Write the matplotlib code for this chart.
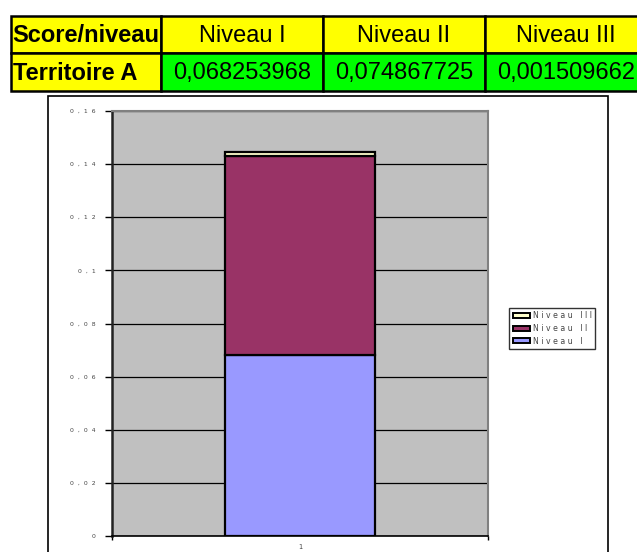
import matplotlib
matplotlib.use("Agg")
import matplotlib.pyplot as plt
from matplotlib.patches import Rectangle, Patch
from matplotlib.ticker import FuncFormatter, FixedLocator

row_header = "Score/niveau"
row_label = "Territoire A"
levels = ["Niveau I", "Niveau II", "Niveau III"]
values = [0.068253968, 0.074867725, 0.001509662]
value_texts = ["0,068253968", "0,074867725", "0,001509662"]
categories = [1]
colors = ["#9999FF", "#993366", "#FFFFCC"]

W, H = 637, 552
fig = plt.figure(figsize=(W / 100, H / 100), dpi=100)

# ---- background layer in pixel coordinates (table + chart frame) ----
bg = fig.add_axes([0, 0, 1, 1])
bg.set_xlim(0, W)
bg.set_ylim(H, 0)
bg.axis("off")

col_x = [11, 161, 323, 485, 647]
row_y = [16, 53, 91]
for i in range(4):
    x0, x1 = col_x[i], col_x[i + 1]
    bg.add_patch(Rectangle((x0, row_y[0]), x1 - x0, row_y[1] - row_y[0],
                           facecolor="#FFFF00", edgecolor="black", lw=1.8))
    fc = "#FFFF00" if i == 0 else "#00FF00"
    bg.add_patch(Rectangle((x0, row_y[1]), x1 - x0, row_y[2] - row_y[1],
                           facecolor=fc, edgecolor="black", lw=1.8))

font = "Liberation Sans"
bg.text(col_x[0] + 1, (row_y[0] + row_y[1]) / 2 + 1.5, row_header, family=font,
        fontsize=17, fontweight="bold", ha="left", va="center")
bg.text(col_x[0] + 2, (row_y[1] + row_y[2]) / 2 + 1.5, row_label, family=font,
        fontsize=17, fontweight="bold", ha="left", va="center")
for i, (lv, vt) in enumerate(zip(levels, value_texts)):
    cx = (col_x[i + 1] + col_x[i + 2]) / 2
    bg.text(cx, (row_y[0] + row_y[1]) / 2 + 1.5, lv, family=font,
            fontsize=17, ha="center", va="center")
    bg.text(cx, (row_y[1] + row_y[2]) / 2 + 1.5, vt, family=font,
            fontsize=17, ha="center", va="center")

# chart frame
bg.add_patch(Rectangle((48, 96), 608 - 48, 470, facecolor="white",
                       edgecolor="black", lw=1.2))

# ---- stacked bar chart ----
ax = fig.add_axes([112 / W, 1 - 536 / H, 376 / W, 425 / H])
ax.set_facecolor("#C0C0C0")

bottom = [0 for _ in categories]
handles = []
for lv, v, c in zip(levels, values, colors):
    ax.bar(categories, [v], bottom=bottom, width=0.4, color=c,
           edgecolor="black", linewidth=1.6, zorder=3)
    bottom = [b + v for b in bottom]
    handles.append(Patch(facecolor=c, edgecolor="black", linewidth=1.4,
                         label=" ".join(lv)))

ax.set_xlim(0.5, 1.5)
ax.set_ylim(0, 0.16)
ax.yaxis.set_major_locator(FixedLocator([i * 0.02 for i in range(9)]))
ax.yaxis.grid(True, color="black", linewidth=0.9, zorder=1)
ax.set_axisbelow(True)


def spaced(v, pos):
    s = f"{v:.2f}".rstrip("0").rstrip(".")
    return "  ".join(s.replace(".", ","))


ax.yaxis.set_major_formatter(FuncFormatter(spaced))
ax.tick_params(axis="y", labelsize=4.4, length=5, width=1, pad=7,
               labelcolor="#444444")

ax.set_xticks([0.5, 1.5])
ax.set_xticklabels(["", ""])
ax.set_xticks(categories, minor=True)
ax.set_xticklabels([str(c) for c in categories], minor=True)
ax.tick_params(axis="x", which="major", length=3, width=1)
ax.tick_params(axis="x", which="minor", length=0, labelsize=4.8, pad=6,
               labelcolor="#444444")

for side in ["top", "right"]:
    ax.spines[side].set_color("#808080")
    ax.spines[side].set_linewidth(1.5)
ax.spines["left"].set_color("#222222")
ax.spines["left"].set_linewidth(1.8)
ax.spines["bottom"].set_color("black")
ax.spines["bottom"].set_linewidth(1.2)

leg = fig.legend(handles=handles[::-1], loc="upper left",
                 bbox_to_anchor=(509 / W, 1 - 308 / H), borderaxespad=0,
                 fontsize=5.6, labelcolor="#444444",
                 frameon=True, fancybox=False, edgecolor="black",
                 handlelength=2.2, handleheight=0.6, handletextpad=0.4,
                 borderpad=0.45, labelspacing=0.45)
leg.get_frame().set_linewidth(1)

fig.savefig("out.png", dpi=100)
